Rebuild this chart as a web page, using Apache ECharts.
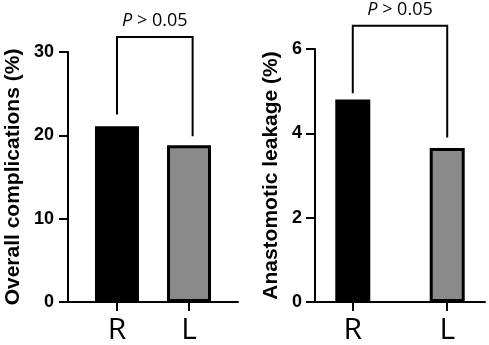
<!DOCTYPE html>
<html><head><meta charset="utf-8">
<script src="https://cdn.jsdelivr.net/npm/echarts@6/dist/echarts.min.js"></script>
<style>html,body{margin:0;padding:0;background:#fff}#c{width:489px;height:345px}</style>
</head><body><div id="c"></div>
<script>
var categories = ['R', 'L'];
var overallComplications = [21.1, 18.8];
var anastomoticLeakage = [4.8, 3.65];
var leftTicks = [0, 10, 20, 30];
var rightTicks = [0, 2, 4, 6];
var pText = 'P > 0.05';
// bracket anchors (data units)
var leftBracket = {top: 31.8, legL: 22.5, legR: 19.9};
var rightBracket = {top: 6.55, legL: 4.95, legR: 3.9};
var barColors = ['#000000', '#8a8a8a'];

var chart = echarts.init(document.getElementById('c'), null, {renderer: 'canvas'});

function yAxis(gi, max, interval, name, gap, lm) {
  return {
    type: 'value', gridIndex: gi, min: 0, max: max, interval: interval,
    name: name, nameLocation: 'middle', nameGap: gap,
    nameTextStyle: {fontFamily: 'Liberation Sans', fontWeight: 'bold', fontSize: 21, color: '#000'},
    axisLine: {show: true, lineStyle: {color: '#000', width: 2}},
    axisTick: {show: true, length: 9, lineStyle: {color: '#000', width: 2}},
    axisLabel: {fontFamily: 'Liberation Sans', fontWeight: 'bold', fontSize: 18, color: '#000', margin: lm},
    splitLine: {show: false}
  };
}
function xAxis(gi, min, max) {
  return {
    type: 'value', gridIndex: gi, min: min, max: max,
    axisLine: {show: true, lineStyle: {color: '#000', width: 2}},
    axisTick: {show: true, length: 9, customValues: [1, 2], lineStyle: {color: '#000', width: 2}},
    axisLabel: {customValues: [1, 2], formatter: function (v) { return categories[Math.round(v) - 1]; },
      fontFamily: 'Open Sans', fontSize: 30, color: '#000', margin: 13},
    splitLine: {show: false}
  };
}
function bars(gi, vals, bw) {
  return {
    type: 'bar', xAxisIndex: gi, yAxisIndex: gi, barWidth: bw,
    data: vals.map(function (v, i) {
      return {value: [i + 1, v], itemStyle: {color: barColors[i], borderColor: '#000', borderWidth: 3}};
    })
  };
}
function bracket(gi, b, xR) {
  return {
    type: 'line', xAxisIndex: gi, yAxisIndex: gi, clip: false, silent: true,
    symbol: 'circle', symbolSize: 0, showSymbol: true,
    lineStyle: {color: '#000', width: 2, join: 'miter'},
    data: [
      [1, b.legL], [1, b.top],
      {value: [(1 + xR) / 2, b.top], label: {show: true, position: 'top', distance: 7,
        formatter: '{i|P} > 0.05', rich: {i: {fontStyle: 'italic', fontFamily: 'Open Sans', fontSize: 18, color: '#000'}},
        fontFamily: 'Open Sans', fontSize: 18, color: '#000'}},
      [xR, b.top], [xR, b.legR]
    ]
  };
}

chart.setOption({
  animation: false,
  grid: [
    {left: 68, top: 52, width: 170, height: 252},
    {left: 315, top: 49, width: 170, height: 255}
  ],
  xAxis: [xAxis(0, 0.32, 2.68), xAxis(1, 0.6, 2.4)],
  yAxis: [yAxis(0, 30, 10, 'Overall complications (%)', 44, 14), yAxis(1, 6, 2, 'Anastomotic leakage (%)', 33, 13)],
  series: [
    bars(0, overallComplications, 44),
    bars(1, anastomoticLeakage, 35),
    bracket(0, leftBracket, 2.05),
    bracket(1, rightBracket, 2)
  ]
});
</script></body></html>
